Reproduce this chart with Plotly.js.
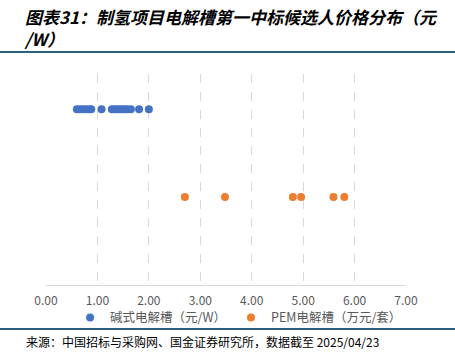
<!DOCTYPE html>
<html>
<head>
<meta charset="utf-8">
<script src="https://cdn.plot.ly/plotly-3.0.1.min.js"></script>
<style>html,body{margin:0;padding:0;background:#fff;}#chart{width:455px;height:364px;}</style>
</head>
<body>
<div id="chart"></div>
<script>
const alkalineName = "碱式电解槽（元/W）";
const pemName = "PEM电解槽（万元/套）";
const alkalinePrices = [0.60, 0.66, 0.72, 0.78, 0.84, 0.88, 1.08, 1.28, 1.33, 1.38, 1.43, 1.48, 1.53, 1.58, 1.65, 1.81, 2.00];
const pemPrices = [2.70, 3.48, 4.80, 4.96, 5.59, 5.80];
const alkalineRow = 1.0;
const pemRow = 0.5;
const xTicks = [0, 1, 2, 3, 4, 5, 6, 7];
const titleLines = ['图表31：制氢项目电解槽第一中标候选人价格分布（元', '/W）'];
const sourceText = '来源：中国招标与采购网、国金证券研究所，数据截至 2025/04/23';

const cjk = '"Noto Sans CJK SC", "Noto Sans", sans-serif';

const traces = [
  {
    type: 'scatter', mode: 'markers', name: alkalineName,
    x: alkalinePrices, y: alkalinePrices.map(() => alkalineRow),
    marker: {color: '#4472C4', size: 8}
  },
  {
    type: 'scatter', mode: 'markers', name: pemName,
    x: pemPrices, y: pemPrices.map(() => pemRow),
    marker: {color: '#ED7D31', size: 8}
  }
];

const titleFont = {family: cjk, size: 17, color: '#000', weight: 'bold', style: 'italic'};

const layout = {
  width: 455, height: 364,
  margin: {l: 46, r: 49, t: 74, b: 79},
  paper_bgcolor: '#fff', plot_bgcolor: '#fff',
  showlegend: true,
  xaxis: {
    range: [0, 7], tickvals: xTicks, tickformat: '.2f',
    showgrid: true, gridcolor: '#D9D9D9', griddash: 'dash', gridwidth: 1,
    zeroline: false, showline: true, linecolor: '#D9D9D9', linewidth: 1,
    ticks: '', ticklabelstandoff: 5,
    tickfont: {family: cjk, size: 12, color: '#595959'},
    fixedrange: true
  },
  yaxis: {
    range: [0, 1.2], showgrid: false, zeroline: false, showline: false,
    showticklabels: false, ticks: '', fixedrange: true
  },
  legend: {
    orientation: 'h', x: 0.535, xanchor: 'center', y: -0.085, yanchor: 'top',
    bgcolor: 'rgba(0,0,0,0)',
    font: {family: cjk, size: 12.5, color: '#595959'},
    itemwidth: 30, tracegroupgap: 0
  },
  shapes: [
    {type: 'line', xref: 'paper', yref: 'paper', x0: -0.13, x1: 1.14, y0: 1.104, y1: 1.104,
     line: {color: '#2F5F7F', width: 2}},
    {type: 'line', xref: 'paper', yref: 'paper', x0: -0.13, x1: 1.14, y0: -0.2085, y1: -0.2085,
     line: {color: '#2F5F7F', width: 2}}
  ],
  annotations: [
    {text: titleLines.join('<br>'), xref: 'paper', yref: 'paper', x: -0.0667, y: 1.2227,
     xanchor: 'left', yanchor: 'middle', align: 'left', showarrow: false, font: titleFont},
    {text: sourceText,
     xref: 'paper', yref: 'paper', x: -0.06, y: -0.27, xanchor: 'left', yanchor: 'middle',
     showarrow: false, font: {family: cjk, size: 12, color: '#000'}}
  ]
};

Plotly.newPlot('chart', traces, layout, {displayModeBar: false, staticPlot: true});
</script>
</body>
</html>
